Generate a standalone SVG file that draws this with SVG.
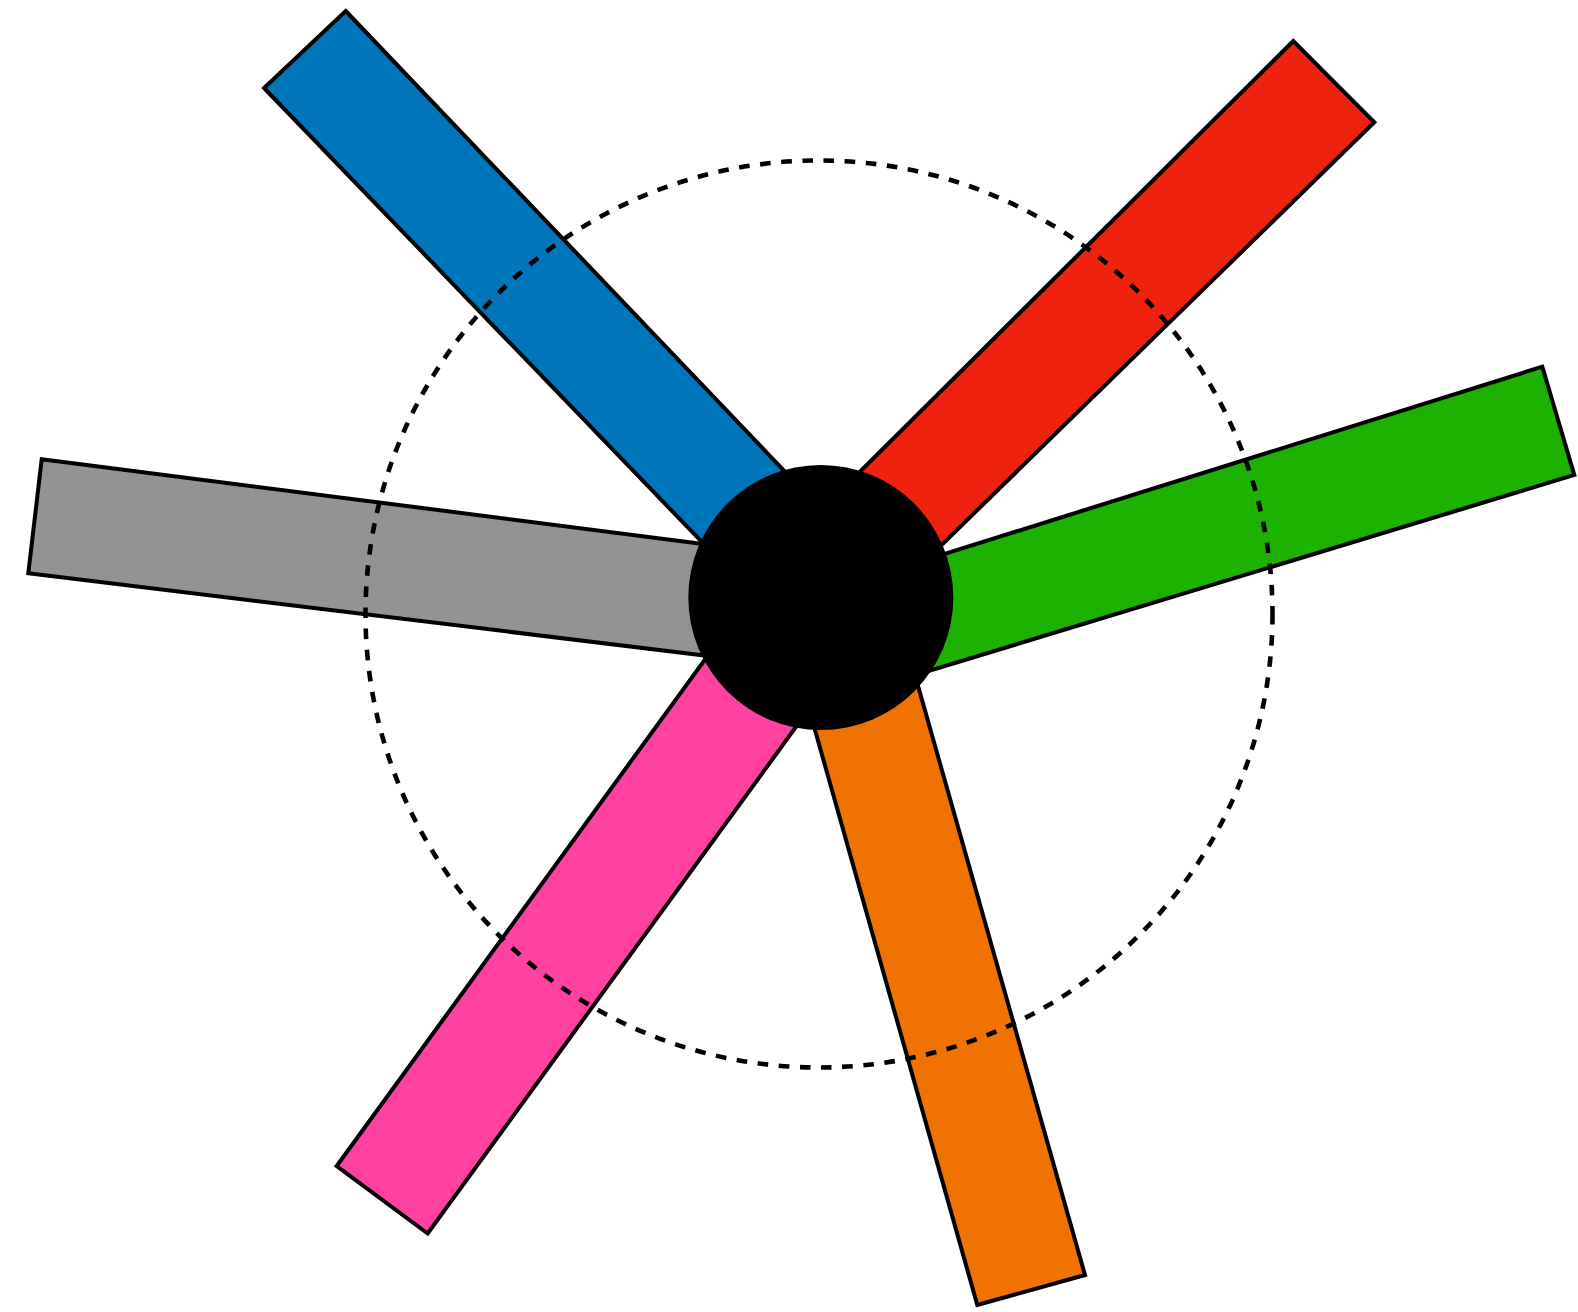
<svg xmlns="http://www.w3.org/2000/svg" width="1578" height="1312" viewBox="0 0 1578 1312">
  <style>
    .bar { stroke: #000000; stroke-width: 4; stroke-linejoin: miter; }
    .ring { fill: none; stroke: #000000; stroke-width: 4.6; stroke-dasharray: 10.6 10.6; }
    .hub { fill: #000000; }
  </style>
  <rect x="0" y="0" width="1578" height="1312" fill="#ffffff"/>
  <g id="bars">
    <g id="bar-blue"><polygon class="bar" fill="#0076BA" points="345.7,11 823.1,511.7 741.7,583.2 264,88"/></g>
    <g id="bar-red"><polygon class="bar" fill="#EE220F" points="1293.3,41 819.1,512.3 900.4,585.2 1374.3,122.3"/></g>
    <g id="bar-green"><polygon class="bar" fill="#1DB100" points="1542.3,366.7 889.4,571.2 864.7,690.3 1574.3,475"/></g>
    <g id="bar-orange"><polygon class="bar" fill="#F07200" points="977.3,1305 798.7,672.3 901.9,629 1085,1275"/></g>
    <g id="bar-pink"><polygon class="bar" fill="#FF42A1" points="336.7,1166 738.6,613.2 830.2,679.8 427.7,1233.5"/></g>
    <g id="bar-gray"><polygon class="bar" fill="#939393" points="41.7,459.3 757.8,550.9 759.6,662.2 28.3,573.3"/></g>
  </g>
  <g id="dashed-circle"><circle class="ring" cx="819" cy="614" r="453.5"/></g>
  <g id="hub"><circle class="hub" cx="820.8" cy="597.5" r="132.5"/></g>
</svg>
